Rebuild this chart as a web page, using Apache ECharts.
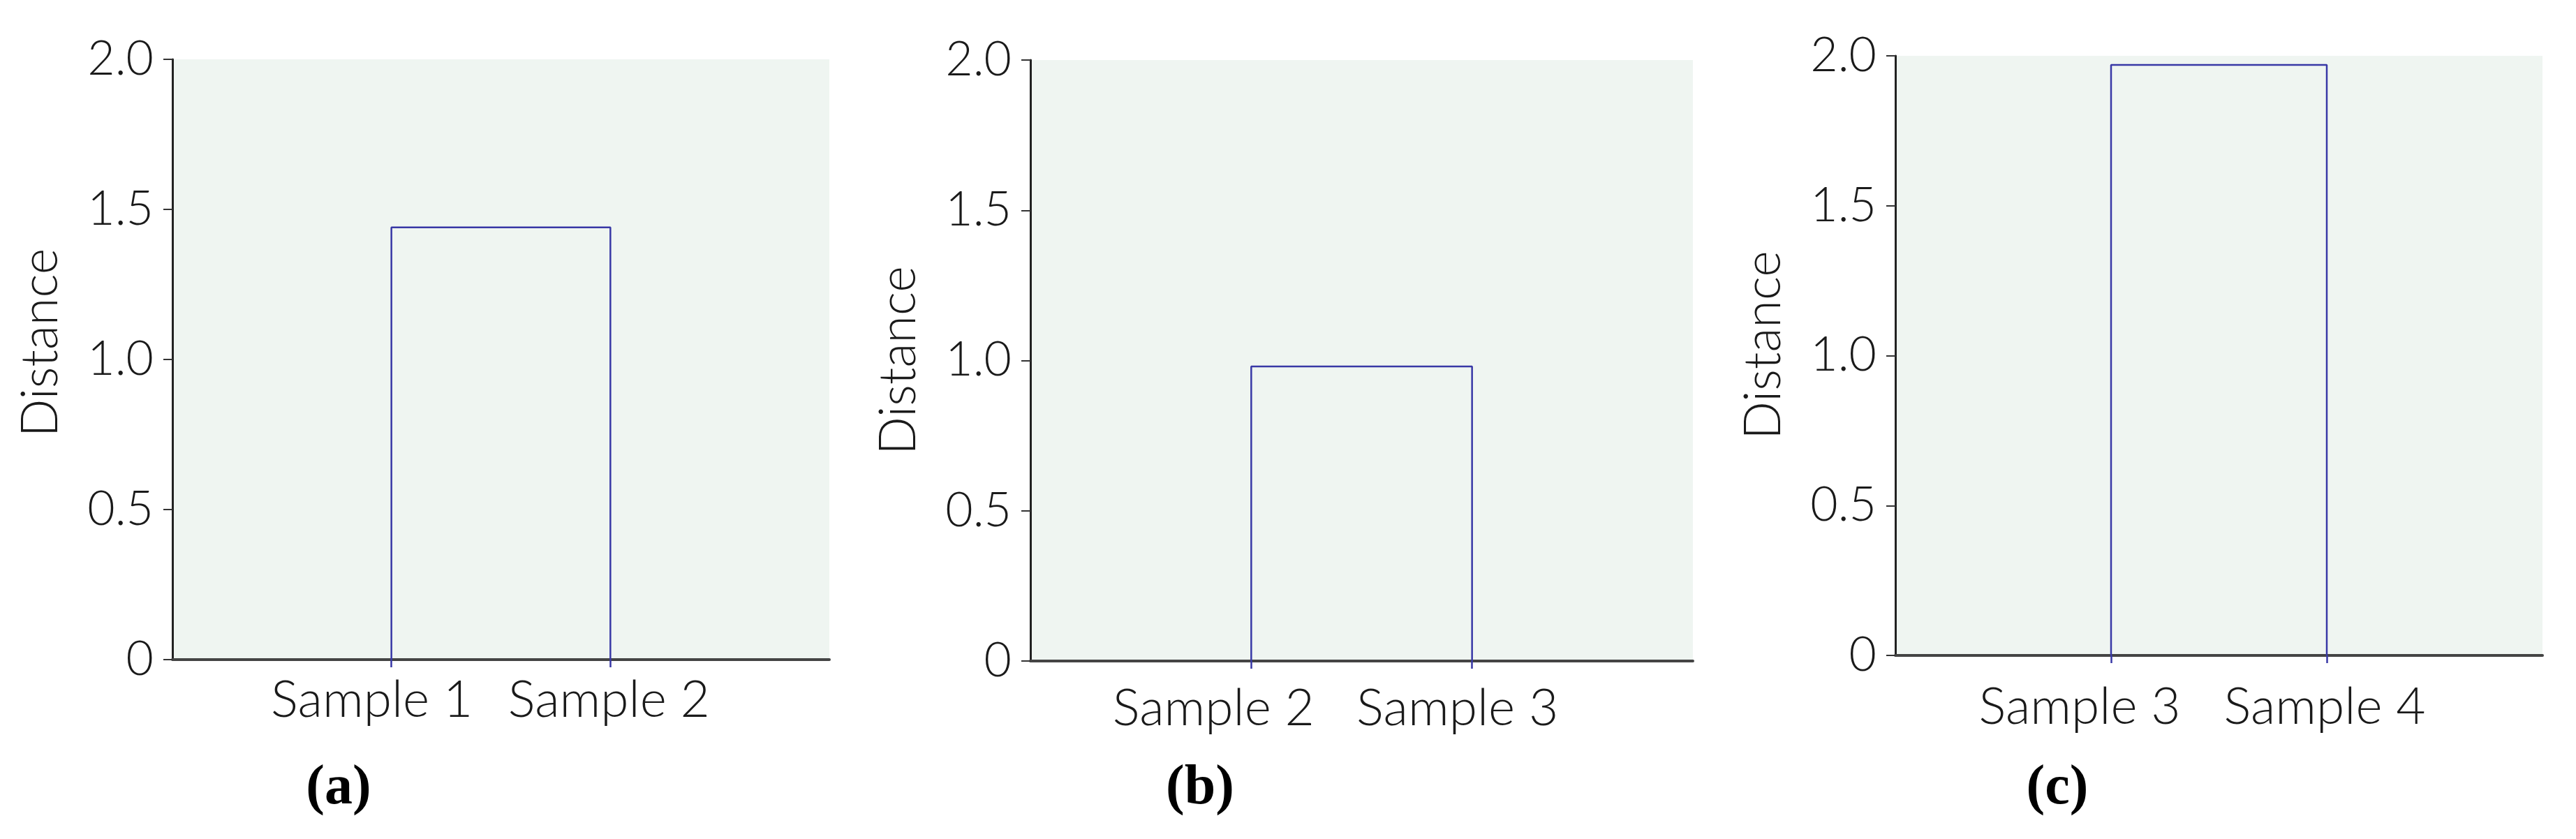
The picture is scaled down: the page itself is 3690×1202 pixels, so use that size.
<!DOCTYPE html>
<html>
<head>
<meta charset="utf-8">
<script src="https://cdn.jsdelivr.net/npm/echarts@6/dist/echarts.min.js"></script>
<style>
html,body{margin:0;padding:0;background:#fff;}
#chart{width:3690px;height:1202px;}
</style>
</head>
<body>
<div id="chart"></div>
<script>
// ---- data ----
const panelLetters = ['(a)', '(b)', '(c)'];
const samplesA = ['Sample 1', 'Sample 2'];
const samplesB = ['Sample 2', 'Sample 3'];
const samplesC = ['Sample 3', 'Sample 4'];
const mergeDistance = [1.44, 0.98, 1.97];
const yTickValues = [0, 0.5, 1.0, 1.5, 2.0];
const yAxisTitle = 'Distance';

// ---- layout (pixels) ----
const grids = [
  {left: 247, top: 85, width: 941, height: 860},
  {left: 1476, top: 86, width: 949, height: 861},
  {left: 2715, top: 80, width: 927, height: 859}
];
const labelShift = [[-28, -2], [-54, -21], [-45, -3]];
const xLabelMargin = [22, 32, 38];
const nameShiftUp = [24, 0, 15];
const letterPos = [[485, 1130], [1719, 1130], [2947, 1130]];

const sampleSets = [samplesA, samplesB, samplesC];
const lineColor = '#3838a6';
const font = 'Lato';

const option = {
  backgroundColor: '#ffffff',
  animation: false,
  grid: grids.map(g => Object.assign({show: true, backgroundColor: '#eff5f1', borderWidth: 0}, g)),
  xAxis: sampleSets.map((s, i) => {
    const cats = ['', s[0], s[1], ' '];
    const rich = {};
    rich.l1 = {fontFamily: font, fontWeight: 300, fontSize: 73, color: '#1a1a1a', padding: [0, -2 * labelShift[i][0], 0, 0]};
    rich.l2 = {fontFamily: font, fontWeight: 300, fontSize: 73, color: '#1a1a1a', padding: [0, -2 * labelShift[i][1], 0, 0]};
    return {
      type: 'category',
      gridIndex: i,
      data: cats,
      boundaryGap: false,
      axisLine: {show: true, lineStyle: {color: '#444', width: 4}},
      axisTick: {
        show: true, length: 11,
        interval: (idx, v) => v.trim() !== '',
        lineStyle: {color: lineColor, width: 2.5}
      },
      axisLabel: {
        show: true,
        interval: (idx, v) => v.trim() !== '',
        margin: xLabelMargin[i],
        formatter: (v, idx) => v.trim() === '' ? '' : '{l' + idx + '|' + v + '}',
        rich: rich
      },
      splitLine: {show: false}
    };
  }),
  yAxis: sampleSets.map((s, i) => ({
    type: 'value',
    gridIndex: i,
    min: yTickValues[0],
    max: yTickValues[yTickValues.length - 1],
    interval: yTickValues[1] - yTickValues[0],
    name: yAxisTitle,
    nameLocation: 'middle',
    nameGap: 152,
    nameTextStyle: {
      fontFamily: font, fontWeight: 300, fontSize: 72, color: '#1a1a1a',
      padding: [0, 0, 0, 2 * nameShiftUp[i]]
    },
    axisLine: {show: true, lineStyle: {color: '#222', width: 3}},
    axisTick: {show: true, length: 13, lineStyle: {color: '#333', width: 2}},
    axisLabel: {
      show: true, margin: 27,
      fontFamily: font, fontWeight: 300, fontSize: 68, color: '#1a1a1a',
      padding: [14, 0, 0, 0],
      formatter: v => v === 0 ? '0' : v.toFixed(1)
    },
    splitLine: {show: false}
  })),
  series: sampleSets.map((s, i) => ({
    type: 'line',
    xAxisIndex: i,
    yAxisIndex: i,
    symbol: 'none',
    lineStyle: {color: lineColor, width: 2.5},
    data: [[s[0], 0], [s[0], mergeDistance[i]], [s[1], mergeDistance[i]], [s[1], 0]]
  })),
  graphic: panelLetters.map((t, i) => ({
    type: 'text',
    x: letterPos[i][0],
    y: letterPos[i][1],
    style: {
      text: t,
      font: 'bold 80px "Liberation Serif", "DejaVu Serif", serif',
      fill: '#000',
      textAlign: 'center',
      textVerticalAlign: 'middle'
    }
  }))
};

const chart = echarts.init(document.getElementById('chart'), null, {renderer: 'canvas'});
chart.setOption(option);
</script>
</body>
</html>
